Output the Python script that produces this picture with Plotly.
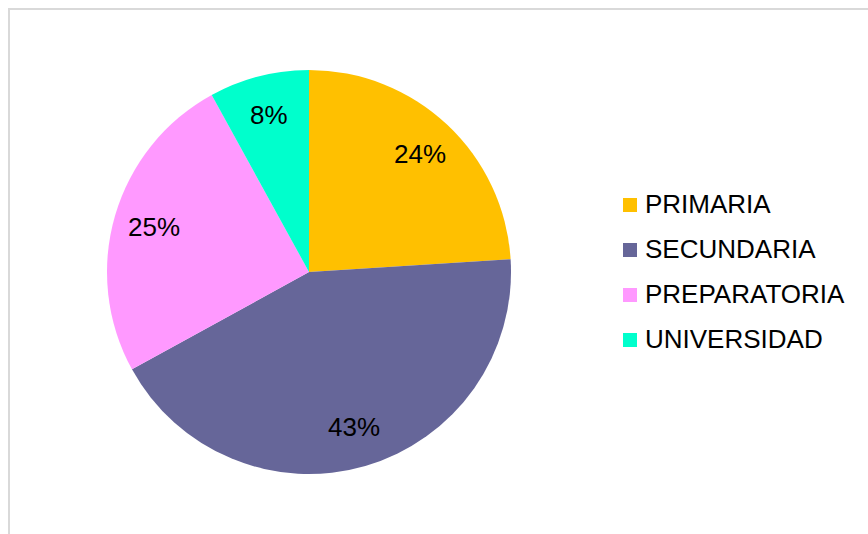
import math
import plotly.graph_objects as go

# Education level breakdown
niveles = ["PRIMARIA", "SECUNDARIA", "PREPARATORIA", "UNIVERSIDAD"]
porcentajes = [24, 43, 25, 8]
colores = ["#FFC000", "#666699", "#FF99FF", "#00FFCC"]

W, H = 868, 534
CX, CY, R = 309, 272, 202  # pie centre and radius in pixels
FONT = "Liberation Sans, Arial, sans-serif"

fig = go.Figure()
fig.add_trace(go.Pie(
    labels=niveles,
    values=porcentajes,
    sort=False,
    direction="clockwise",
    rotation=0,
    marker=dict(colors=colores, line=dict(width=0)),
    textinfo="none",
    hoverinfo="label+percent",
    showlegend=False,
    domain=dict(x=[(CX - R) / W, (CX + R) / W],
                y=[(H - CY - R) / H, (H - CY + R) / H]),
))

# Percentage labels placed along each slice's mid-angle
total = sum(porcentajes)
acum = 0
for v in porcentajes:
    mid = (acum + v / 2) / total * 2 * math.pi
    acum += v
    r = 0.8 * R
    px = CX + r * math.sin(mid)
    py = CY - r * math.cos(mid)
    fig.add_annotation(
        x=px / W, y=1 - py / H, xref="paper", yref="paper",
        xanchor="center", yanchor="middle",
        text=f"{round(v / total * 100)}%", showarrow=False,
        font=dict(size=26, color="#000000", family=FONT),
    )

# Legend: coloured squares with category names
LX, LY0, LSTEP, SQ = 623, 205, 45, 14
for i, (nombre, color) in enumerate(zip(niveles, colores)):
    yc = LY0 + i * LSTEP
    fig.add_shape(type="rect", xref="paper", yref="paper",
                  x0=LX / W, x1=(LX + SQ) / W,
                  y0=1 - (yc + SQ / 2) / H, y1=1 - (yc - SQ / 2) / H,
                  fillcolor=color, line=dict(width=0))
    fig.add_annotation(
        x=(LX + SQ + 6) / W, y=1 - (yc - 1) / H, xref="paper", yref="paper",
        xanchor="left", yanchor="middle", text=nombre, showarrow=False,
        font=dict(size=26, color="#000000", family=FONT),
    )

# Chart area frame
fig.add_shape(type="rect", xref="paper", yref="paper",
              x0=9 / W, x1=1.02, y0=-0.02, y1=1 - 9 / H,
              line=dict(color="#D9D9D9", width=2), fillcolor="rgba(0,0,0,0)", layer="below")

fig.update_layout(
    width=W, height=H,
    margin=dict(l=0, r=0, t=0, b=0),
    paper_bgcolor="white", plot_bgcolor="white",
    font=dict(family=FONT, size=26, color="#000000"),
    showlegend=False,
)

fig.write_html("out.html")
